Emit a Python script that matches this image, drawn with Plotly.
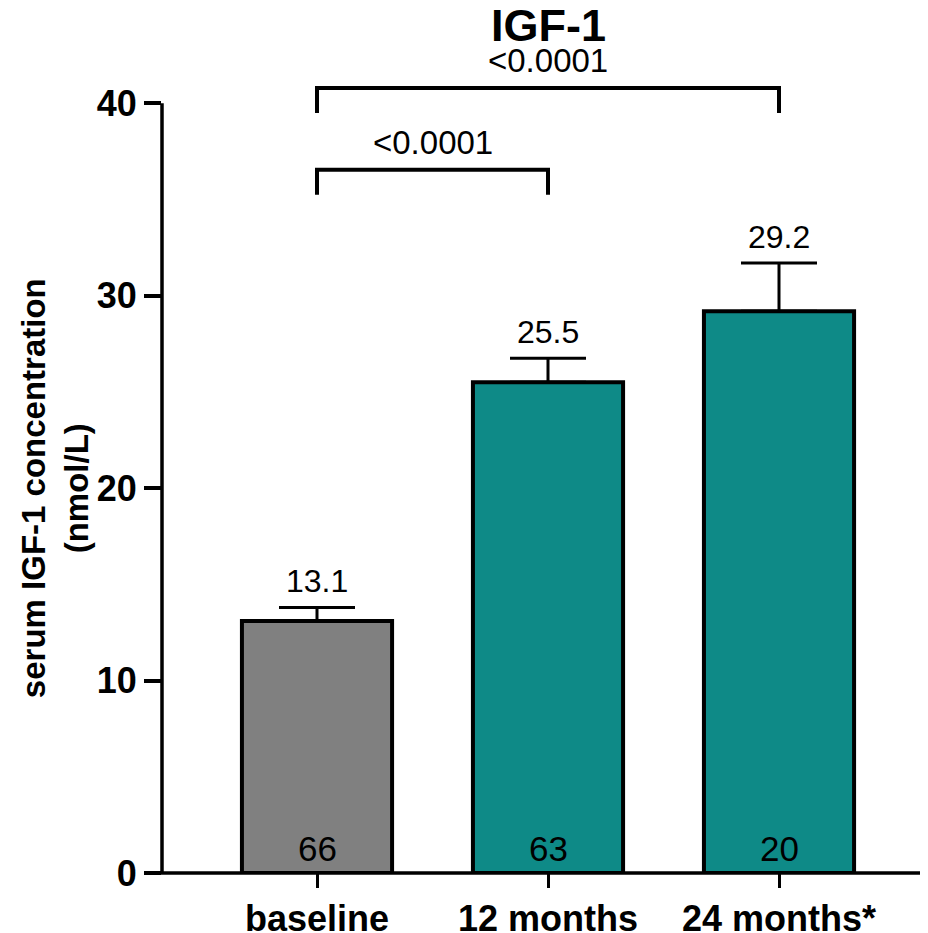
import plotly.graph_objects as go

categories = ["baseline", "12 months", "24 months*"]
means = [13.1, 25.5, 29.2]
errors_up = [0.7, 1.25, 2.5]
n_counts = [66, 63, 20]
bar_colors = ["#808080", "#0e8a87", "#0e8a87"]
comparisons = [(0, 1, "<0.0001"), (0, 2, "<0.0001")]
y_ticks = [0, 10, 20, 30, 40]

FONT = "Liberation Sans, Arial, sans-serif"

fig = go.Figure()
fig.add_trace(go.Bar(
    x=list(range(len(categories))), y=means, width=0.65,
    marker=dict(color=bar_colors, line=dict(color="black", width=4)),
    error_y=dict(type="data", symmetric=False, array=errors_up,
                 arrayminus=[0] * len(means), color="black", thickness=3, width=38),
    showlegend=False, hoverinfo="skip",
))

ann = []
# value labels above the error bars
for i, (m, e) in enumerate(zip(means, errors_up)):
    ann.append(dict(x=i, y=m + e, xref="x", yref="y", text=f"{m:.1f}", showarrow=False,
                    yanchor="bottom", yshift=6, font=dict(family=FONT, size=32, color="black")))
# n labels inside bars
for i, n in enumerate(n_counts):
    ann.append(dict(x=i, y=0, xref="x", yref="y", text=str(n), showarrow=False,
                    yanchor="bottom", yshift=3, font=dict(family=FONT, size=35, color="black")))

# significance brackets
levels = [36.55, 40.8]
drop = 1.3
shapes = []
for (a, b, label), lv in zip(comparisons, levels):
    shapes.append(dict(type="path", xref="x", yref="y",
                       path=f"M {a},{lv - drop} L {a},{lv} L {b},{lv} L {b},{lv - drop}",
                       line=dict(color="black", width=4)))
    ann.append(dict(x=(a + b) / 2, y=lv, xref="x", yref="y", text=label, showarrow=False,
                    yanchor="bottom", yshift=7, font=dict(family=FONT, size=33, color="black")))

# title
ann.append(dict(x=1, y=1, xref="x", yref="paper", text="IGF-1", showarrow=False,
                yanchor="middle", yshift=11, font=dict(family=FONT, size=45, color="black", weight="bold")))

# y-axis title, centred on the 0–40 axis span
ann.append(dict(x=0, y=max(y_ticks) / 2, xref="paper", yref="y", xanchor="center", yanchor="middle",
                xshift=-107, textangle=-90, showarrow=False,
                text="serum IGF-1 concentration<br>(nmol/L)",
                font=dict(family=FONT, size=33, color="black", weight="bold")))

# axis lines (GraphPad style)
shapes.append(dict(type="line", xref="paper", yref="y", x0=0, x1=0, y0=0, y1=max(y_ticks),
                   line=dict(color="black", width=3.5)))
shapes.append(dict(type="line", xref="paper", yref="paper", x0=-0.0225, x1=1, y0=0, y1=0,
                   line=dict(color="black", width=3.5)))

fig.update_layout(
    width=920, height=925,
    margin=dict(l=154, r=0, t=28, b=60, autoexpand=False),
    plot_bgcolor="white", paper_bgcolor="white",
    annotations=ann, shapes=shapes,
    font=dict(family=FONT, color="black"),
)
fig.update_xaxes(
    range=[-0.671, 2.645], tickvals=list(range(len(categories))), ticktext=categories,
    ticks="outside", ticklen=14, tickwidth=3, tickcolor="black",
    tickfont=dict(family=FONT, size=36, color="black", weight="bold"),
    showline=False, showgrid=False, zeroline=False, automargin=False,
)
fig.update_yaxes(
    range=[0, 43.5], tickvals=y_ticks, ticks="outside", ticklen=17, tickwidth=3.5, tickcolor="black",
    tickfont=dict(family=FONT, size=36, color="black", weight="bold"),
    showline=False, showgrid=False, zeroline=False, automargin=False,
)

fig.write_html("out.html")
